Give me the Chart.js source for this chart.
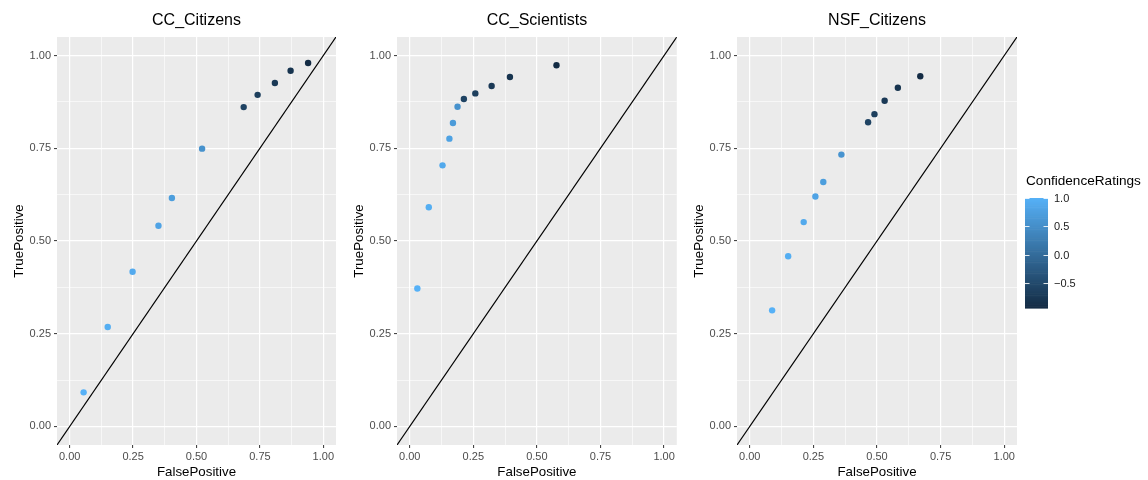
<!DOCTYPE html>
<html>
<head>
<meta charset="utf-8">
<script src="https://cdn.jsdelivr.net/npm/chart.js@4/dist/chart.umd.min.js"></script>
<style>
  html, body { margin: 0; padding: 0; background: #ffffff; }
  #wrap { position: relative; width: 1148px; height: 480px; overflow: hidden; }
  canvas { position: absolute; top: 0; }
</style>
</head>
<body>
<div id="wrap">
  <canvas id="c1" width="340" height="480" style="left:0px"></canvas>
  <canvas id="c2" width="340" height="480" style="left:340px"></canvas>
  <canvas id="c3" width="468" height="480" style="left:680px"></canvas>
</div>
<script>
// ---------------- DATA ----------------
const panelTitles = ["CC_Citizens", "CC_Scientists", "NSF_Citizens"];

const fpCCCitizens   = [0.055, 0.150, 0.248, 0.350, 0.403, 0.522, 0.686, 0.741, 0.809, 0.871, 0.940];
const tpCCCitizens   = [0.092, 0.268, 0.417, 0.541, 0.616, 0.749, 0.861, 0.894, 0.926, 0.959, 0.980];
const confCCCitizens = [1.00, 0.95, 0.90, 0.80, 0.72, 0.55, -0.60, -0.66, -0.74, -0.82, -0.94];

const fpCCScientists   = [0.030, 0.075, 0.129, 0.156, 0.170, 0.188, 0.213, 0.258, 0.322, 0.394, 0.577];
const tpCCScientists   = [0.372, 0.591, 0.704, 0.776, 0.818, 0.862, 0.883, 0.898, 0.918, 0.942, 0.974];
const confCCScientists = [1.00, 0.95, 0.88, 0.78, 0.68, 0.55, -0.60, -0.66, -0.74, -0.82, -0.94];

const fpNSFCitizens   = [0.088, 0.151, 0.212, 0.258, 0.289, 0.360, 0.465, 0.490, 0.530, 0.582, 0.670];
const tpNSFCitizens   = [0.313, 0.459, 0.551, 0.620, 0.659, 0.733, 0.820, 0.842, 0.878, 0.913, 0.944];
const confNSFCitizens = [1.00, 0.95, 0.88, 0.80, 0.72, 0.58, -0.60, -0.66, -0.74, -0.82, -0.94];

const axisTicks   = [0, 0.125, 0.25, 0.375, 0.5, 0.625, 0.75, 0.875, 1];
const axisLimits  = [-0.05, 1.05];
const legendTicks = [1.0, 0.5, 0.0, -0.5];
const legendLabels = ["1.0", "0.5", "0.0", "\u22120.5"];
const confRange   = [-0.946, 1.0];

// ---------------- STYLE ----------------
const LOW = [19, 43, 67];     // #132B43
const HIGH = [86, 177, 247];  // #56B1F7
function confColor(v) {
  const t = Math.max(0, Math.min(1, (v - confRange[0]) / (confRange[1] - confRange[0])));
  const c = LOW.map((l, i) => Math.round(l + (HIGH[i] - l) * t));
  return `rgb(${c[0]},${c[1]},${c[2]})`;
}
const FONT = "'Liberation Sans', Arial, Helvetica, sans-serif";
const isMajor = v => Math.abs(v * 4 - Math.round(v * 4)) < 1e-6;

const bgPlugin = {
  id: 'panelBg',
  beforeDraw(chart) {
    const { ctx, chartArea: a } = chart;
    ctx.save();
    ctx.fillStyle = '#EBEBEB';
    ctx.fillRect(a.left, a.top, a.right - a.left, a.bottom - a.top);
    ctx.restore();
  },
  afterDraw(chart) {
    const { ctx, chartArea: a } = chart;
    ctx.save();
    ctx.fillStyle = '#000000';
    ctx.font = `16px ${FONT}`;
    ctx.textAlign = 'center';
    ctx.textBaseline = 'middle';
    ctx.fillText(chart.options.plugins.panelBg.title, (a.left + a.right) / 2, 21);
    ctx.restore();
  }
};

const colorbarPlugin = {
  id: 'colorbar',
  afterDraw(chart) {
    const o = chart.options.plugins.colorbar;
    if (!o || !o.show) return;
    const { ctx } = chart;
    const x0 = 345, w = 23, yTop = 198, yBot = 308;
    const yOf = v => yTop + (confRange[1] - v) / (confRange[1] - confRange[0]) * (yBot - yTop);
    ctx.save();
    ctx.fillStyle = '#000000';
    ctx.font = `13.6px ${FONT}`;
    ctx.textAlign = 'left';
    ctx.textBaseline = 'middle';
    ctx.fillText('ConfidenceRatings', 346, 181);
    const n = 60;
    for (let i = 0; i < n; i++) {
      const v1 = confRange[1] - (confRange[1] - confRange[0]) * i / n;
      const v2 = confRange[1] - (confRange[1] - confRange[0]) * (i + 1) / n;
      ctx.fillStyle = confColor((v1 + v2) / 2);
      const y1 = yOf(v1), y2 = yOf(v2);
      ctx.fillRect(x0, y1, w, y2 - y1 + 0.6);
    }
    ctx.strokeStyle = 'rgba(255,255,255,0.85)';
    ctx.lineWidth = 1;
    ctx.font = `11px ${FONT}`;
    ctx.fillStyle = '#1a1a1a';
    legendTicks.forEach((v, i) => {
      const y = Math.round(yOf(v)) + 0.5;
      ctx.beginPath();
      ctx.moveTo(x0, y); ctx.lineTo(x0 + 4.5, y);
      ctx.moveTo(x0 + w - 4.5, y); ctx.lineTo(x0 + w, y);
      ctx.stroke();
      ctx.fillText(legendLabels[i], x0 + w + 6, y);
    });
    ctx.restore();
  }
};

function makePanel(id, title, fp, tp, conf, padRight, withLegend) {
  const pts = fp.map((x, i) => ({ x: x, y: tp[i] }));
  const diag = axisLimits.map(v => ({ x: v, y: v }));
  const axisCommon = (titleText, isY) => ({
    type: 'linear',
    min: axisLimits[0],
    max: axisLimits[1],
    afterBuildTicks(scale) { scale.ticks = axisTicks.map(v => ({ value: v })); },
    afterFit(scale) {
      if (isY) scale.width = 57; else scale.height = 35;
    },
    border: { display: false },
    grid: {
      color: '#FFFFFF',
      lineWidth: ctx => (ctx.tick && isMajor(ctx.tick.value)) ? 1.2 : 0.6,
      drawTicks: true,
      tickLength: 3,
      tickWidth: 1,
      tickColor: ctx => (ctx.tick && isMajor(ctx.tick.value)) ? '#333333' : 'rgba(0,0,0,0)'
    },
    ticks: {
      autoSkip: false,
      maxRotation: 0,
      padding: isY ? 3 : 2,
      color: '#4D4D4D',
      font: { family: FONT, size: 11 },
      callback: v => isMajor(v) ? v.toFixed(2) : ''
    },
    title: {
      display: true,
      text: titleText,
      color: '#000000',
      font: { family: FONT, size: 13.3 },
      padding: isY ? { top: 11, bottom: 0 } : { top: 0, bottom: 0 }
    }
  });
  return new Chart(document.getElementById(id), {
    type: 'scatter',
    data: {
      datasets: [
        {
          type: 'line',
          data: diag,
          borderColor: '#000000',
          borderWidth: 1.2,
          pointRadius: 0,
          fill: false,
          order: 2
        },
        {
          data: pts,
          pointRadius: 3.2,
          pointHoverRadius: 3.2,
          pointBorderWidth: 0,
          pointBackgroundColor: conf.map(confColor),
          pointBorderColor: conf.map(confColor),
          order: 1
        }
      ]
    },
    options: {
      responsive: false,
      animation: false,
      events: [],
      layout: { padding: { top: 37, right: padRight, bottom: 0, left: 0 } },
      plugins: {
        legend: { display: false },
        tooltip: { enabled: false },
        panelBg: { title: title },
        colorbar: { show: withLegend }
      },
      scales: {
        x: axisCommon('FalsePositive', false),
        y: axisCommon('TruePositive', true)
      }
    },
    plugins: [bgPlugin, colorbarPlugin]
  });
}

makePanel('c1', panelTitles[0], fpCCCitizens, tpCCCitizens, confCCCitizens, 4, false);
makePanel('c2', panelTitles[1], fpCCScientists, tpCCScientists, confCCScientists, 3, false);
makePanel('c3', panelTitles[2], fpNSFCitizens, tpNSFCitizens, confNSFCitizens, 131, true);
</script>
</body>
</html>
